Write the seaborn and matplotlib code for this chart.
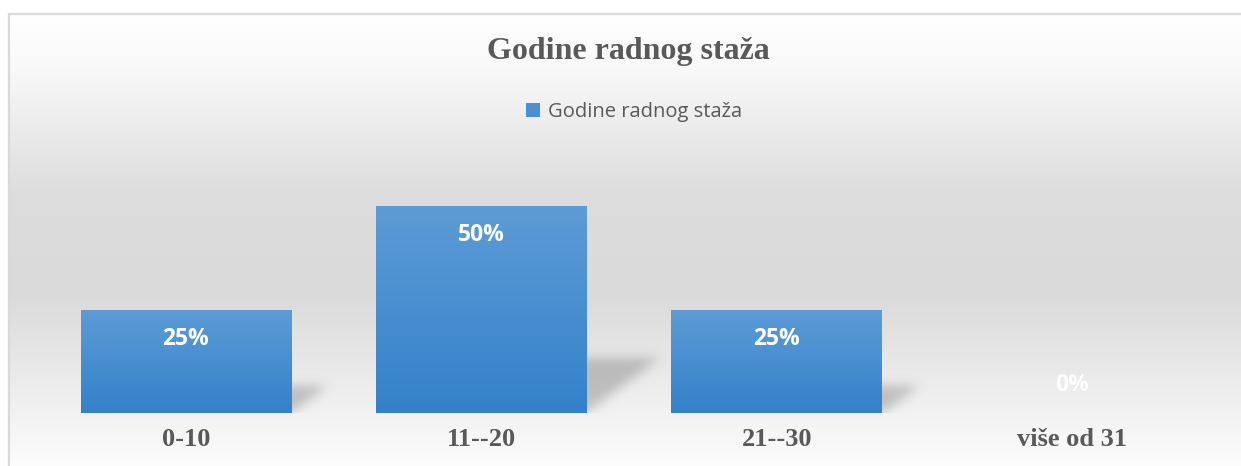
import numpy as np
import pandas as pd
import matplotlib
matplotlib.use("Agg")
import matplotlib.pyplot as plt
import seaborn as sns
from matplotlib.colors import LinearSegmentedColormap

categories = ["0-10", "11--20", "21--30", "više od 31"]
values = [0.25, 0.50, 0.25, 0.0]
labels = ["25%", "50%", "25%", "0%"]
series_name = "Godine radnog staža"
title = "Godine radnog staža"

sns.set_theme(style="white")
plt.rcParams["font.family"] = ["DejaVu Sans"]

W, H, DPI = 1241, 466, 100
fig = plt.figure(figsize=(W / DPI, H / DPI), dpi=DPI)
fig.patch.set_facecolor("white")

# background gradient (chart area) + frame
bg = fig.add_axes([0, 0, 1, 1])
bg.set_xlim(0, W)
bg.set_ylim(H, 0)
bg.axis("off")
ys = np.linspace(0, 1, 300)
stops = [(0.0, 1.0), (0.12, 0.975), (0.40, 0.865), (0.62, 0.855), (0.82, 0.925), (0.90, 0.955), (1.0, 0.99)]
grad = np.interp(ys, [s[0] for s in stops], [s[1] for s in stops])
img = np.dstack([grad, grad, grad]).reshape(300, 1, 3).repeat(2, axis=1)
bg.imshow(img, extent=[9, W, H, 14], aspect="auto", interpolation="bilinear")
bg.plot([8.5, W], [13.5, 13.5], color="#d9d9d9", lw=1.6, solid_capstyle="butt")
bg.plot([8.5, 8.5], [13, H], color="#d9d9d9", lw=1.6, solid_capstyle="butt")

# main axes
ax_left = 38.3 / W
ax_w = 1181.4 / W
ax_bottom = (H - 413) / H
ymax = 0.6
ax_h = (0.6 * 414) / H
ax = fig.add_axes([ax_left, ax_bottom, ax_w, ax_h])
ax.patch.set_alpha(0)

df = pd.DataFrame({"cat": categories, "val": values})
sns.barplot(data=df, x="cat", y="val", width=0.714, color="#4a8fd2", saturation=1,
            ax=ax, label=series_name, zorder=3, linewidth=0, edgecolor="none")
ax.set_xlim(-0.5, 3.5)
ax.set_ylim(0, ymax)
for s in ax.spines.values():
    s.set_visible(False)
ax.set_yticks([])
ax.set_xlabel("")
ax.set_ylabel("")
ax.tick_params(axis="x", length=0, pad=11)
for t in ax.get_xticklabels():
    t.set_fontfamily("Liberation Serif")
    t.set_fontweight("bold")
    t.set_fontsize(19)
    t.set_color("#595959")

fig.canvas.draw()
px_per_x = ax.transData.transform((1, 0))[0] - ax.transData.transform((0, 0))[0]
px_per_y = ax.transData.transform((0, 1))[1] - ax.transData.transform((0, 0))[1]


def gauss_blur(a, sigma):
    r = int(3 * sigma)
    k = np.exp(-0.5 * (np.arange(-r, r + 1) / sigma) ** 2)
    k /= k.sum()
    a = np.apply_along_axis(lambda m: np.convolve(m, k, mode="same"), 0, a)
    a = np.apply_along_axis(lambda m: np.convolve(m, k, mode="same"), 1, a)
    return a


bar_cmap = LinearSegmentedColormap.from_list("bar", ["#3481ca", "#5c9cd6"])
for p in list(ax.patches):
    x0, w, h = p.get_x(), p.get_width(), p.get_height()
    if h <= 0:
        continue
    hpx = h * px_per_y
    wpx = w * px_per_x
    dh = 0.27 * hpx
    dx = 0.36 * hpx
    m = 14
    us = np.arange(-wpx * 0.5 - m, dx + m)
    vs = np.arange(-m, dh + m)
    U, V = np.meshgrid(us, vs)
    shift = V * dx / dh
    mask = ((V >= 0) & (V <= dh) & (U >= -wpx + shift) & (U <= shift)).astype(float)
    sh = gauss_blur(mask, 5.5)
    sh[V < -1] *= 0.3
    rgba = np.zeros(sh.shape + (4,))
    rgba[..., :3] = 0.35
    rgba[..., 3] = 0.32 * sh
    xe = [x0 + w + us[0] / px_per_x, x0 + w + us[-1] / px_per_x]
    ye = [vs[0] / px_per_y, vs[-1] / px_per_y]
    ax.imshow(rgba, extent=[xe[0], xe[1], ye[0], ye[1]], origin="lower",
              aspect="auto", zorder=2, interpolation="bilinear")
    gimg = np.linspace(0, 1, 100).reshape(100, 1)
    im = ax.imshow(gimg, cmap=bar_cmap, extent=[x0, x0 + w, 0, h], origin="lower",
                   aspect="auto", zorder=4, interpolation="bilinear")
    im.set_clip_path(p)

ax.set_xlim(-0.5, 3.5)
ax.set_ylim(0, ymax)

# data labels
for i, (v, lab) in enumerate(zip(values, labels)):
    off = -21 if v > 0 else 20
    ax.annotate(lab, (i, v), xytext=(0, off), textcoords="offset points",
                ha="center", va="center", color="white", fontsize=16.5,
                fontweight="bold", fontfamily="Open Sans", zorder=6)

# title
fig.text(628 / W, 1 - 52 / H, title, ha="center", va="center",
         fontfamily="Liberation Serif", fontweight="bold", fontsize=23, color="#595959")

# legend
leg = ax.legend(loc="center", bbox_to_anchor=(634 / W, 1 - 112 / H),
                bbox_transform=fig.transFigure, frameon=False,
                handlelength=0.7, handleheight=0.7, handletextpad=0.35,
                prop={"family": "Open Sans", "size": 14.5})
for t in leg.get_texts():
    t.set_color("#595959")

fig.savefig("out.png", dpi=DPI, facecolor="white")
